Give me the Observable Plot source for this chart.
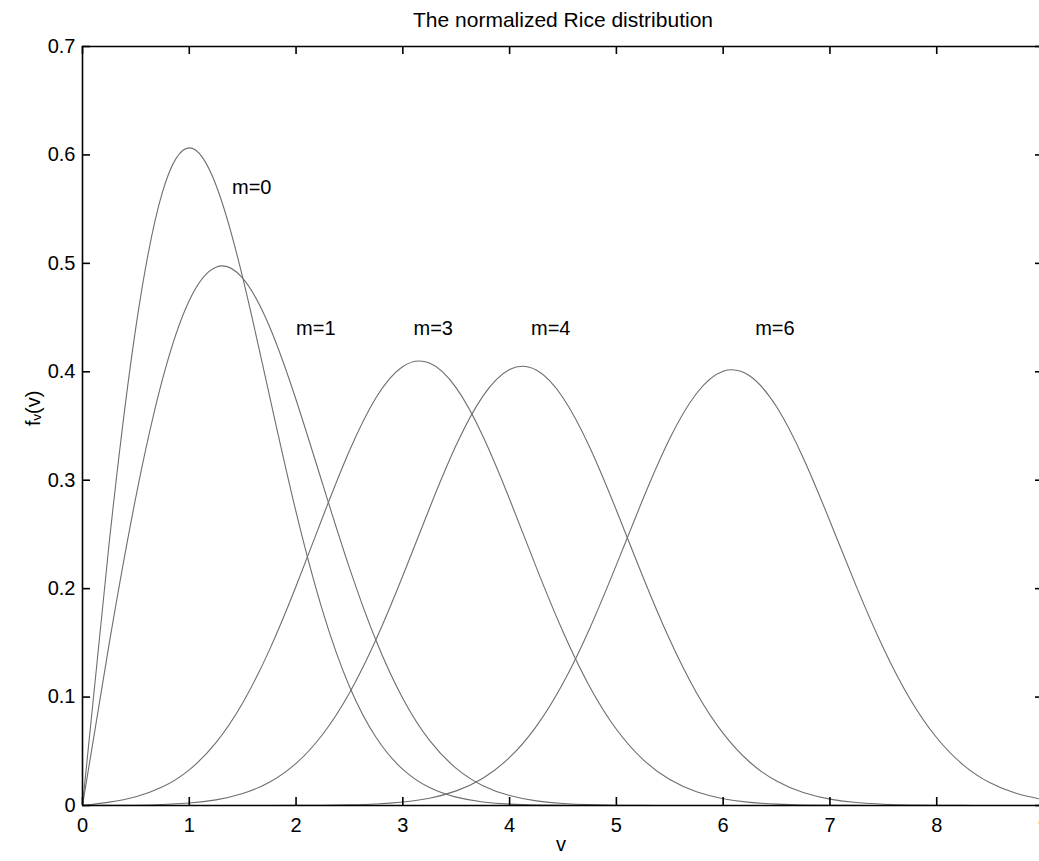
<!DOCTYPE html>
<html><head><meta charset="utf-8">
<script src="https://cdn.jsdelivr.net/npm/d3@7"></script>
<script src="https://cdn.jsdelivr.net/npm/@observablehq/plot@0.6"></script>
<style>
body{margin:0;background:#fff;font-family:"Liberation Sans",Arial,Helvetica,sans-serif;}
#title{position:relative;height:34px;width:1039px;}
#title span{position:absolute;left:563px;top:20px;transform:translate(-50%,-50%);font-size:21px;white-space:nowrap;color:#000;}
</style></head><body>
<div id="title"><span>The normalized Rice distribution</span></div>
<div id="chart"></div>
<script>
// sample points of v
const vGrid = [0,0.25,0.5,0.75,1,1.25,1.5,1.75,2,2.25,2.5,2.75,3,3.25,3.5,3.75,4,4.25,4.5,4.75,5,5.25,5.5,5.75,6,6.25,6.5,6.75,7,7.25,7.5,7.75,8,8.25,8.5,8.75,9];
// f_v(v) read for each curve at the points above
const riceM0 = [0,0.2423,0.4412,0.5661,0.6065,0.5723,0.4870,0.3785,0.2707,0.1790,0.1098,0.0627,0.0333,0.0165,0.0077,0.0033,0.0013,0.0005,0.0002,0.0001,0,0,0,0,0,0,0,0,0,0,0,0,0,0,0,0,0];
const riceM1 = [0,0.1493,0.2846,0.3934,0.4658,0.4965,0.4864,0.4420,0.3742,0.2961,0.2192,0.1519,0.0987,0.0600,0.0343,0.0183,0.0092,0.0043,0.0019,0.0008,0.0003,0.0001,0,0,0,0,0,0,0,0,0,0,0,0,0,0,0];
const riceM3 = [0,0.0031,0.0081,0.0172,0.0329,0.0580,0.0946,0.1433,0.2022,0.2661,0.3272,0.3763,0.4049,0.4080,0.3851,0.3406,0.2825,0.2196,0.1602,0.1096,0.0703,0.0423,0.0239,0.0127,0.0063,0.0029,0.0013,0.0005,0.0002,0.0001,0,0,0,0,0,0,0];
const riceM4 = [0,0.0001,0.0003,0.0009,0.0023,0.0052,0.0110,0.0214,0.0388,0.0657,0.1038,0.1533,0.2119,0.2742,0.3324,0.3776,0.4022,0.4016,0.3761,0.3304,0.2723,0.2105,0.1528,0.1040,0.0665,0.0399,0.0225,0.0119,0.0059,0.0027,0.0012,0.0005,0.0002,0.0001,0,0,0];
const riceM6 = [0,0,0,0,0,0,0,0,0.0001,0.0002,0.0006,0.0014,0.0032,0.0067,0.0135,0.0252,0.0443,0.0730,0.1127,0.1633,0.2219,0.2829,0.3385,0.3800,0.4005,0.3961,0.3677,0.3205,0.2622,0.2014,0.1453,0.0983,0.0625,0.0373,0.0209,0.0110,0.0054];

const seriesNames = ["m=0","m=1","m=3","m=4","m=6"];
const seriesValues = [riceM0, riceM1, riceM3, riceM4, riceM6];
const labelX = [1.4, 2.0, 3.1, 4.2, 6.3];
const labelY = [0.57, 0.44, 0.44, 0.44, 0.44];
const xTicks = [0,1,2,3,4,5,6,7,8,9];
const yTicks = [0,0.1,0.2,0.3,0.4,0.5,0.6,0.7];
const xTitle = "v";
const yTitle = "f\u1D65(v)";

const table = seriesNames.flatMap((m, i) => vGrid.map((v, j) => ({m, v, f: seriesValues[i][j]})));
const labels = seriesNames.map((m, i) => ({m, x: labelX[i], y: labelY[i]}));

const W = 1039, H = 827, mt = 12, mb = 56, ml = 82, mr = 0;
const fh = H - mt - mb, fw = W - ml - mr;
const axisColor = "#000", axisW = 1.6, tickLen = 8;

const chart = Plot.plot({
  width: W, height: H,
  marginTop: mt, marginBottom: mb, marginLeft: ml, marginRight: mr,
  x: {domain: [0, 9], range: [82, 1043]},
  y: {domain: [0, 0.7]},
  style: {fontFamily: '"Liberation Sans", Arial, Helvetica, sans-serif', fontSize: "20px", background: "#fff", overflow: "hidden", color: "#000"},
  marks: [
    Plot.line(table, {x: "v", y: "f", z: "m", stroke: "#6e6e6e", strokeWidth: 1.1, curve: "natural"}),
    Plot.text(labels, {x: "x", y: "y", text: "m", textAnchor: "start", fontSize: 20, fill: "#000"}),
    Plot.ruleX([0], {stroke: axisColor, strokeWidth: axisW}),
    Plot.ruleY([0, 0.7], {stroke: axisColor, strokeWidth: axisW}),
    Plot.tickX(xTicks, {x: d => d, insetTop: fh - tickLen, stroke: axisColor, strokeWidth: axisW}),
    Plot.tickX(xTicks, {x: d => d, insetBottom: fh - tickLen, stroke: axisColor, strokeWidth: axisW}),
    Plot.tickY(yTicks, {y: d => d, insetRight: fw - tickLen, stroke: axisColor, strokeWidth: axisW}),
    Plot.tickY(yTicks, {y: d => d, insetLeft: fw - 4, stroke: axisColor, strokeWidth: axisW}),
    Plot.axisX({ticks: xTicks, tickSize: 0, tickPadding: 12, tickFormat: d => String(d), label: null, fontSize: 20}),
    Plot.axisY({ticks: yTicks, tickSize: 0, tickPadding: 7, tickFormat: d => String(d), label: null, fontSize: 20}),
    Plot.text([xTitle], {text: d => d, frameAnchor: "bottom", dy: 45, fontSize: 20}),
    Plot.text([yTitle], {text: d => d, frameAnchor: "left", rotate: -90, dx: -49, fontSize: 20})
  ]
});
document.getElementById("chart").appendChild(chart);
</script>
</body></html>
